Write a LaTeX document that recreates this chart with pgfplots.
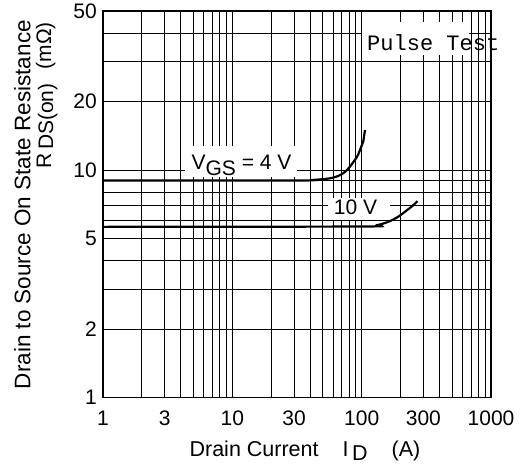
\documentclass[border=0pt]{standalone}
\usepackage{pgfplots}
\pgfplotsset{compat=1.18}
\usepackage{fontspec}
\setmainfont{Liberation Sans}
\newfontfamily\mono{Liberation Mono}

% px -> rel axis:  rx = (px-103)/388,  ry = (397.7-py)/386.7
\begin{document}
\begin{tikzpicture}
\begin{axis}[
  width=388pt, height=386.7pt, scale only axis,
  xmode=log, ymode=log,
  xmin=1, xmax=1000, ymin=1, ymax=50,
  xtick={1,3,10,30,100,300,1000},
  xticklabels={1,3,10,30,100,300,1000},
  minor xtick={2,4,5,6,7,8,9,20,40,50,60,70,80,90,200,400,500,600,700,800,900},
  ytick={1,2,5,10,20,50},
  yticklabels={1,2,5,10,20,50},
  minor ytick={3,4,6,7,8,9,30,40},
  grid=both,
  major grid style={black, line width=0.9pt},
  minor grid style={black, line width=0.9pt},
  major tick length=0pt, minor tick length=0pt,
  axis line style={line width=1.2pt},
  tick label style={font=\fontsize{21}{21}\selectfont},
  /pgf/number format/assume math mode=true,
  xticklabel style={inner sep=0pt, anchor=north, yshift=-13pt},
  yticklabel style={inner sep=0pt, anchor=east, xshift=-6pt},
  clip=false,
]
% background boxes for labels
\fill[white] (rel axis cs:0.2113,0.5703) rectangle (rel axis cs:0.5,0.651);
\fill[white] (rel axis cs:0.5799,0.459) rectangle (rel axis cs:0.7397,0.5164);
\fill[white] (rel axis cs:0.6675,0.8862) rectangle (rel axis cs:0.9433,0.9715);

% V_GS = 4 V
\addplot[black, line width=2.2pt, smooth, tension=0.5] coordinates {
  (1,9.0) (30,9.0) (42,9.05) (57,9.2) (68,9.5) (77,10.0) (91.7,11.4) (100,12.8) (103,13.4) (106,15.0)};
% V_GS = 10 V
\addplot[black, line width=2.2pt, smooth, tension=0.5] coordinates {
  (1,5.63) (100,5.65) (130,5.72) (160,5.92) (190,6.22) (223,6.65) (250,7.0) (270,7.3)};

\node[anchor=base, inner sep=0pt, font=\fontsize{21}{21}\selectfont]
  at (rel axis cs:0.357,0.5888) {V\raisebox{-6pt}{GS} = 4 V};
\node[anchor=base, inner sep=0pt, font=\fontsize{21}{21}\selectfont]
  at (rel axis cs:0.6508,0.4725) {10 V};
\node[anchor=base west, inner sep=0pt, font=\mono\fontsize{22}{22}\selectfont]
  at (rel axis cs:0.6804,0.8989) {Pulse Test};

% axis labels
\node[rotate=90, anchor=base east, inner sep=0pt, font=\fontsize{22.5}{22.5}\selectfont]
  at (rel axis cs:-0.187,0.9767) {Drain to Source On State Resistance};
\node[rotate=90, anchor=base east, inner sep=0pt, font=\fontsize{21}{21}\selectfont]
  at (rel axis cs:-0.134,0.9715) {R\,\raisebox{-2pt}{DS(on)}\hspace{14pt}(mΩ)};
\node[anchor=base, inner sep=0pt, font=\fontsize{21.5}{21.5}\selectfont]
  at (rel axis cs:0.5206,-0.153) {Drain Current\hspace{24pt}I\,\raisebox{-4pt}{D}\hspace{24pt}(A)};

% canvas
\path (rel axis cs:-0.2655,-0.1792) rectangle (rel axis cs:1.1005,1.0284);
\end{axis}
\end{tikzpicture}
\end{document}
